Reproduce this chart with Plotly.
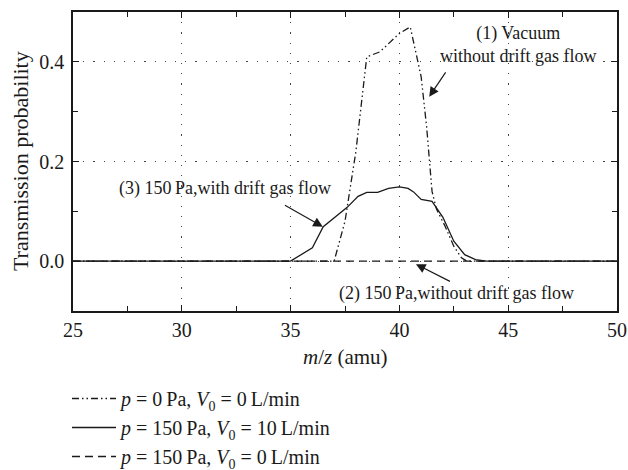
import plotly.graph_objects as go

# m/z values and transmission probabilities
mz_vac = [25, 37.0, 37.5, 38.0, 38.5, 39.1, 40.0, 40.5, 41.0, 41.25, 41.5, 41.7, 42.1, 42.5, 42.85, 43.1, 50]
tp_vac = [0, 0, 0.08, 0.22, 0.41, 0.42, 0.457, 0.47, 0.37, 0.27, 0.14, 0.105, 0.07, 0.03, 0.007, 0, 0]

mz_flow = [25, 35.0, 36.0, 36.5, 37.6, 38.1, 38.5, 39.0, 39.5, 40.0, 40.4, 40.65, 41.0, 41.5, 42.0, 42.5, 43.0, 43.5, 44.0, 50]
tp_flow = [0, 0, 0.027, 0.069, 0.108, 0.13, 0.138, 0.138, 0.146, 0.149, 0.146, 0.139, 0.124, 0.12, 0.088, 0.04, 0.013, 0.003, 0, 0]

mz_noflow = [25, 50]
tp_noflow = [0, 0]

x_ticks = [25, 30, 35, 40, 45, 50]
x_minor = [27.5, 32.5, 37.5, 42.5, 47.5]
y_ticks = [0.0, 0.2, 0.4]
y_tick_text = ["0.0", "0.2", "0.4"]
y_minor = [0.1, 0.3]

names = [
    "<i>p</i> = 0\u2009Pa, <i>V</i><sub>0</sub> = 0\u2009L/min",
    "<i>p</i> = 150\u2009Pa, <i>V</i><sub>0</sub> = 10\u2009L/min",
    "<i>p</i> = 150\u2009Pa, <i>V</i><sub>0</sub> = 0\u2009L/min",
]

FONT = "Liberation Serif"
INK = "#1a1a1a"

W, H = 628, 470
ML, MR, MT, MB = 72.5, 10.5, 12.3, 159.3
PW = W - ML - MR
PH = H - MT - MB

fig = go.Figure()
fig.add_trace(go.Scatter(x=mz_vac, y=tp_vac, mode="lines", name=names[0],
                         legendgroup="a", legendrank=1,
                         line=dict(color=INK, width=1.3, dash="7px,3px,1.5px,3px,1.5px,3px")))
fig.add_trace(go.Scatter(x=mz_flow, y=tp_flow, mode="lines", name=names[1],
                         legendgroup="b", legendrank=2,
                         line=dict(color=INK, width=1.3)))
fig.add_trace(go.Scatter(x=mz_noflow, y=tp_noflow, mode="lines", name=names[2],
                         legendgroup="c", legendrank=3,
                         line=dict(color=INK, width=1.3, dash="8px,5px")))

grid = dict(showgrid=True, gridcolor="#444", gridwidth=1.2, griddash="1.2px,9px")

fig.update_xaxes(range=[25, 50], tickmode="array", tickvals=x_ticks,
                 ticks="inside", ticklen=6, tickwidth=1.2, tickcolor=INK,
                 showline=True, linecolor=INK, linewidth=1.5, mirror="allticks",
                 zeroline=False, ticklabelstandoff=0, automargin=False,
                 tickfont=dict(family=FONT, size=20, color=INK),
                 minor=dict(tickvals=x_minor, ticks="inside", ticklen=5, tickcolor=INK, showgrid=False),
                 **grid)
fig.update_yaxes(range=[-0.1, 0.5], tickmode="array", tickvals=y_ticks, ticktext=y_tick_text,
                 ticks="inside", ticklen=6, tickwidth=1.2, tickcolor=INK,
                 showline=True, linecolor=INK, linewidth=1.5, mirror="allticks",
                 zeroline=False, ticklabelstandoff=3, automargin=False,
                 tickfont=dict(family=FONT, size=20, color=INK),
                 minor=dict(tickvals=y_minor, ticks="inside", ticklen=5, tickcolor=INK, showgrid=False),
                 **grid)

# axis titles
fig.add_annotation(xref="paper", yref="paper", x=(20 - ML) / PW, y=0.5, textangle=-90,
                   text="Transmission probability", showarrow=False,
                   font=dict(family=FONT, size=22, color=INK), xanchor="center", yanchor="middle")
fig.add_annotation(xref="paper", yref="paper", x=0.5, y=-(356.7 - (H - MB)) / PH,
                   text="<i>m</i>/<i>z</i> (amu)", showarrow=False,
                   font=dict(family=FONT, size=21, color=INK), xanchor="center", yanchor="middle")

afont = dict(family=FONT, size=18, color=INK)
# text labels
fig.add_annotation(x=45.44, y=0.435, text="(1) Vacuum<br>without drift gas flow", showarrow=False,
                   font=afont, align="center", xanchor="center", yanchor="middle")
fig.add_annotation(x=32.0, y=0.146, text="(3) 150\u2009Pa,with drift gas flow", showarrow=False,
                   font=afont, xanchor="center", yanchor="middle")
fig.add_annotation(x=42.61, y=-0.065, text="(2) 150\u2009Pa,without drift gas flow", showarrow=False,
                   font=afont, xanchor="center", yanchor="middle")
# arrows
for (tx, ty, sx, sy) in [(41.37, 0.33, 42.17, 0.382), (36.48, 0.069, 34.67, 0.114), (40.76, -0.006, 42.39, -0.042)]:
    fig.add_annotation(x=tx, y=ty, ax=sx, ay=sy, axref="x", ayref="y", text="",
                       showarrow=True, arrowhead=2, arrowsize=1.6, arrowwidth=1.2, arrowcolor=INK, standoff=0)

fig.update_layout(
    width=W, height=H,
    margin=dict(l=ML, r=MR, t=MT, b=MB, autoexpand=False),
    paper_bgcolor="white", plot_bgcolor="white",
    font=dict(family=FONT, size=20, color=INK),
    showlegend=True,
    legend=dict(x=67 / W, xref="container", xanchor="left",
                y=(H - 379) / H, yref="container", yanchor="top",
                orientation="v", traceorder="grouped", tracegroupgap=0,
                font=dict(family=FONT, size=20, color=INK), bgcolor="rgba(0,0,0,0)",
                itemwidth=44),
)

fig.write_html("out.html", config={"displayModeBar": False},
               post_script="document.body.style.margin='0';document.body.style.overflow='hidden';")
